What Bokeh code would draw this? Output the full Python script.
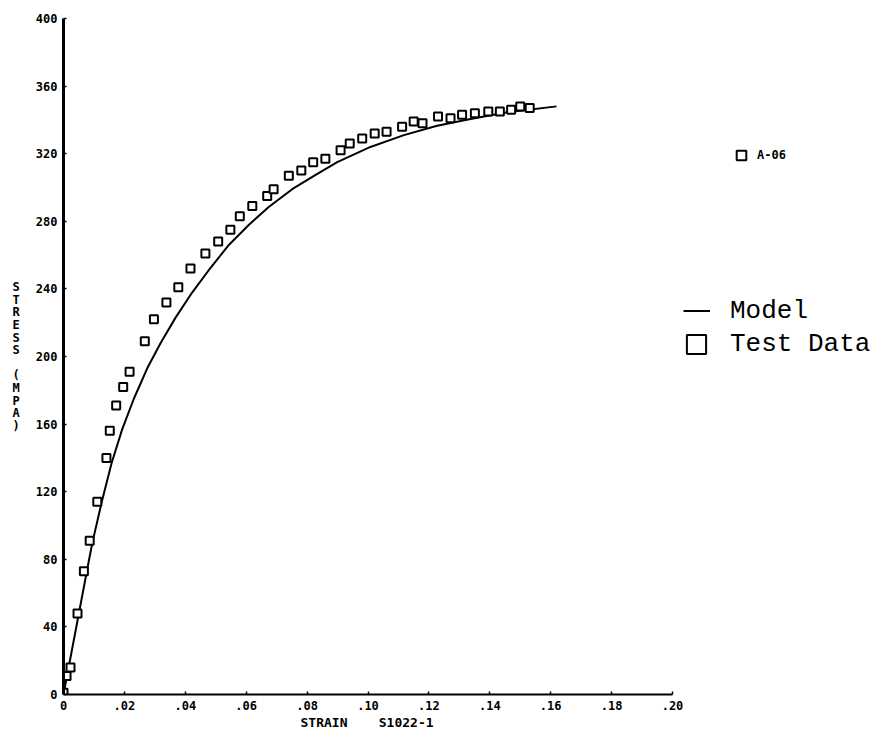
from bokeh.plotting import figure
from bokeh.models import Range1d, FixedTicker, Legend, LegendItem, Title
from bokeh.embed import file_html
from bokeh.resources import INLINE

# ---- data -------------------------------------------------------------
x_ticks = [0.0, 0.02, 0.04, 0.06, 0.08, 0.10, 0.12, 0.14, 0.16, 0.18, 0.20]
x_tick_labels = ["0", ".02", ".04", ".06", ".08", ".10", ".12", ".14", ".16", ".18", ".20"]
y_ticks = [0, 40, 80, 120, 160, 200, 240, 280, 320, 360, 400]
y_tick_labels = ["0", "40", "80", "120", "160", "200", "240", "280", "320", "360", "400"]

test_strain = [0.0, 0.0010, 0.0023, 0.0046, 0.0067, 0.0086, 0.0111, 0.0141, 0.0152,
               0.0173, 0.0196, 0.0217, 0.0267, 0.0297, 0.0338, 0.0377, 0.0417, 0.0466,
               0.0508, 0.0548, 0.0579, 0.0620, 0.0669, 0.0690, 0.0740, 0.0781, 0.0820,
               0.0860, 0.0910, 0.0940, 0.0981, 0.1022, 0.1061, 0.1112, 0.1150, 0.1179,
               0.1230, 0.1271, 0.1309, 0.1351, 0.1395, 0.1433, 0.1470, 0.1500, 0.1531]
test_stress = [1, 11, 16, 48, 73, 91, 114, 140, 156,
               171, 182, 191, 209, 222, 232, 241, 252, 261,
               268, 275, 283, 289, 295, 299, 307, 310, 315,
               317, 322, 326, 329, 332, 333, 336, 339, 338,
               342, 341, 343, 344, 345, 345, 346, 348, 347]

model_strain = [0.0, 0.0040, 0.0080, 0.0095, 0.0127, 0.0158, 0.0193, 0.0231, 0.0275,
                0.0319, 0.0368, 0.0423, 0.0483, 0.0543, 0.0609, 0.0674, 0.0751, 0.0828,
                0.0899, 0.1008, 0.1118, 0.1227, 0.1337, 0.1457, 0.1619]
model_stress = [0, 38, 76, 90, 115, 137, 157, 175, 193,
                208, 223, 238, 252.5, 266, 278, 288.5, 299, 307.5,
                315, 324, 331, 336.5, 340.5, 344.5, 348]

series_name = "A-06"
x_label = "STRAIN\u00a0\u00a0\u00a0\u00a0S1022-1"
y_label = "S\nT\nR\nE\nS\nS\n \n(\nM\nP\nA\n)"

# ---- figure -----------------------------------------------------------
TICK_FONT = "DejaVu Sans Mono"
LEG_FONT = "Liberation Mono"

FRAME_L, FRAME_R = 63, 878      # frame spans legend area too; axis bounded to 0..0.20
X_AXIS_END_PX = 672
x_end = 0.2 * (FRAME_R - FRAME_L) / (X_AXIS_END_PX - FRAME_L)

p = figure(width=880, height=731,
           x_range=Range1d(0, x_end), y_range=Range1d(0, 400),
           output_backend="svg", toolbar_location=None,
           min_border_left=FRAME_L, min_border_top=18,
           min_border_right=880 - FRAME_R, min_border_bottom=37)
p.outline_line_color = None
p.xgrid.grid_line_color = None
p.ygrid.grid_line_color = None
p.background_fill_color = "white"
p.border_fill_color = "white"

# axes
p.xaxis.bounds = (0, 0.2)
p.xaxis.ticker = FixedTicker(ticks=x_ticks)
p.xaxis.major_label_overrides = {t: l for t, l in zip(x_ticks, x_tick_labels)}
p.yaxis.ticker = FixedTicker(ticks=y_ticks)
p.yaxis.major_label_overrides = {t: l for t, l in zip(y_ticks, y_tick_labels)}
for ax in (p.xaxis, p.yaxis):
    ax.major_tick_in = 3
    ax.major_tick_out = 0
    ax.minor_tick_line_color = None
    ax.major_tick_line_color = "black"
    ax.major_tick_line_width = 1.5
    ax.axis_line_color = "black"
    ax.major_label_text_font = TICK_FONT
    ax.major_label_text_font_style = "bold"
    ax.major_label_text_font_size = "12px"
    ax.major_label_text_color = "black"
    ax.axis_label_text_font = TICK_FONT
    ax.axis_label_text_font_style = "bold"
    ax.axis_label_text_color = "black"
p.xaxis.axis_line_width = 2
p.yaxis.axis_line_width = 3
p.xaxis.major_label_standoff = 6
p.yaxis.major_label_standoff = 6
p.yaxis.axis_label = y_label
p.yaxis.axis_label_text_font_size = "12px"
p.yaxis.axis_label_text_line_height = 0.9
p.yaxis.axis_label_orientation = "horizontal"
p.yaxis.axis_label_standoff = 13

# x-axis label as a left-aligned title below the axis (axis itself is bounded to 0..0.20)
p.add_layout(Title(text=x_label, align="left", offset=237, standoff=0,
                   text_font=TICK_FONT, text_font_style="bold",
                   text_font_size="13px", text_color="black"), "below")

# glyphs
model = p.line(model_strain, model_stress, line_color="black", line_width=2)
test = p.scatter(test_strain, test_stress, marker="square", size=8,
                 fill_color="white", line_color="black", line_width=2)

# legends
def make_legend(label, rend, loc, gw, gh, standoff, font, size, style):
    return Legend(items=[LegendItem(label=label, renderers=[rend])],
                  location=loc, glyph_width=gw, glyph_height=gh,
                  label_standoff=standoff, label_text_font=font,
                  label_text_font_size=size, label_text_font_style=style,
                  label_text_color="black", padding=0, margin=0, spacing=0,
                  border_line_color=None, background_fill_alpha=0)

p.add_layout(make_legend(series_name, test, (666, 527), 24, 24, 4,
                         TICK_FONT, "12px", "bold"))
p.add_layout(make_legend("Model", model, (620, 367), 27, 33, 20,
                         LEG_FONT, "26px", "normal"))
p.add_layout(make_legend("Test Data", test, (609, 326), 48, 48, 10,
                         LEG_FONT, "26px", "normal"))

open("out.html", "w").write(file_html(p, INLINE))
